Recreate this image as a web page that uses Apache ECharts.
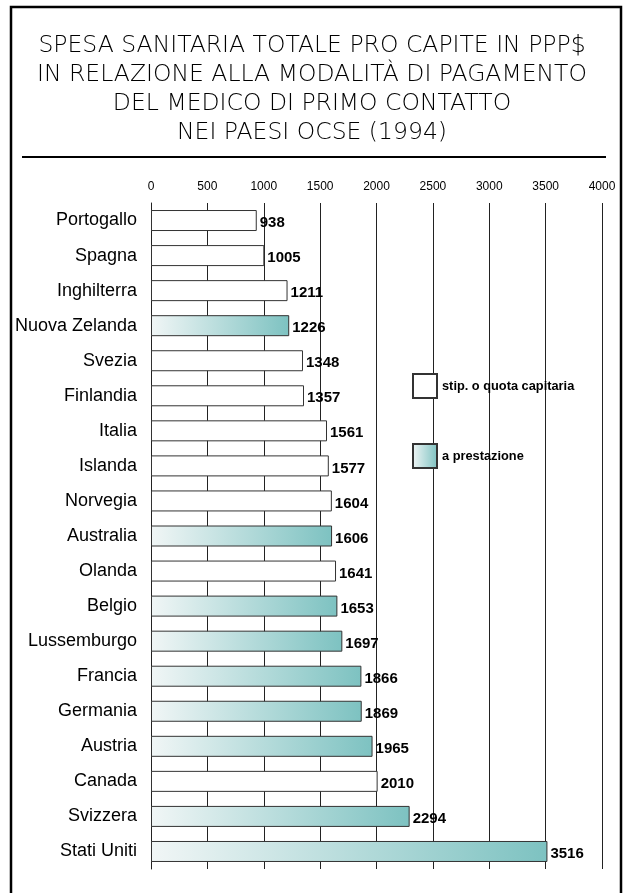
<!DOCTYPE html>
<html>
<head>
<meta charset="utf-8">
<script src="https://cdn.jsdelivr.net/npm/echarts@6/dist/echarts.min.js"></script>
<style>
  html, body { margin: 0; padding: 0; background: #fff; }
  #chart_div { width: 624px; height: 893px; }
</style>
</head>
<body>
<div id="chart_div"></div>
<script>
var paesi = ['Portogallo', 'Spagna', 'Inghilterra', 'Nuova Zelanda', 'Svezia', 'Finlandia', 'Italia',
    'Islanda', 'Norvegia', 'Australia', 'Olanda', 'Belgio', 'Lussemburgo', 'Francia', 'Germania',
    'Austria', 'Canada', 'Svizzera', 'Stati Uniti'];
var spesa = [938, 1005, 1211, 1226, 1348, 1357, 1561, 1577, 1604, 1606, 1641, 1653, 1697, 1866,
    1869, 1965, 2010, 2294, 3516];
// modalita: 'S' = stipendio / quota capitaria, 'P' = a prestazione
var modalita = ['S', 'S', 'S', 'P', 'S', 'S', 'S', 'S', 'S', 'P', 'S', 'P', 'P', 'P', 'P', 'P', 'S', 'P', 'P'];
var tickValori = [0, 500, 1000, 1500, 2000, 2500, 3000, 3500, 4000];
var titolo = 'SPESA SANITARIA TOTALE PRO CAPITE IN PPP$\nIN RELAZIONE ALLA MODALITÀ DI PAGAMENTO\nDEL MEDICO DI PRIMO CONTATTO\nNEI PAESI OCSE (1994)';

// echarts draws category 0 at the bottom, the chart has Portogallo on top
var cat = paesi.slice().reverse();
var stip = [], prest = [];
for (var i = paesi.length - 1; i >= 0; i--) {
    stip.push(modalita[i] === 'S' ? spesa[i] : null);
    prest.push(modalita[i] === 'P' ? spesa[i] : null);
}

var gradiente = new echarts.graphic.LinearGradient(0, 0, 1, 0, [
    { offset: 0, color: '#f1f6f6' },
    { offset: 1, color: '#7dc2c1' }
]);

var etichetta = {
    show: true,
    position: 'right',
    distance: 3,
    offset: [0, 2.5],
    color: '#000',
    fontWeight: 'bold',
    fontSize: 15,
    fontFamily: 'Liberation Sans, Arial, sans-serif'
};

var myChart = echarts.init(document.getElementById('chart_div'));
myChart.setOption({
    animation: false,
    title: {
        text: titolo,
        left: 'center',
        top: 26,
        textStyle: {
            fontFamily: 'DejaVu Sans',
            fontWeight: 300,
            fontSize: 23.5,
            lineHeight: 29,
            color: '#000'
        }
    },
    graphic: [
        { type: 'rect', shape: { x: 11, y: 7, width: 610, height: 900 },
          style: { fill: null, stroke: '#000', lineWidth: 2.5 }, silent: true },
        { type: 'line', shape: { x1: 22, y1: 157, x2: 606, y2: 157 },
          style: { stroke: '#000', lineWidth: 2 }, silent: true }
    ],
    legend: {
        orient: 'vertical',
        left: 407,
        top: 368,
        itemWidth: 24,
        itemHeight: 24,
        itemGap: 44,
        icon: 'rect',
        textStyle: { fontSize: 12.8, fontWeight: 'bold', color: '#000', fontFamily: 'Liberation Sans, Arial, sans-serif' },
        data: ['stip. o quota capitaria', 'a prestazione']
    },
    grid: { left: 151, right: 22, top: 203, height: 666 },
    xAxis: {
        type: 'value',
        position: 'top',
        min: 0,
        max: 4000,
        interval: 500,
        axisLine: { show: false },
        axisTick: { show: false },
        axisLabel: {
            margin: 10,
            fontSize: 12,
            color: '#000',
            fontFamily: 'Liberation Sans, Arial, sans-serif',
            formatter: function (v) { return tickValori.indexOf(v) >= 0 ? String(v) : ''; }
        },
        splitLine: { show: true, lineStyle: { color: '#222', width: 1 } }
    },
    yAxis: {
        type: 'category',
        data: cat,
        axisLine: { show: true, lineStyle: { color: '#222', width: 1 } },
        axisTick: { show: false },
        axisLabel: {
            margin: 14,
            fontSize: 18,
            color: '#000',
            fontFamily: 'Liberation Sans, Arial, sans-serif'
        }
    },
    series: [
        {
            name: 'stip. o quota capitaria',
            type: 'bar',
            stack: 'tot',
            barWidth: 21,
            data: stip,
            itemStyle: { color: '#fff', borderColor: '#333', borderWidth: 1 },
            label: etichetta
        },
        {
            name: 'a prestazione',
            type: 'bar',
            stack: 'tot',
            barWidth: 21,
            data: prest,
            itemStyle: { color: gradiente, borderColor: '#333', borderWidth: 1 },
            label: etichetta
        }
    ]
});
</script>
</body>
</html>
